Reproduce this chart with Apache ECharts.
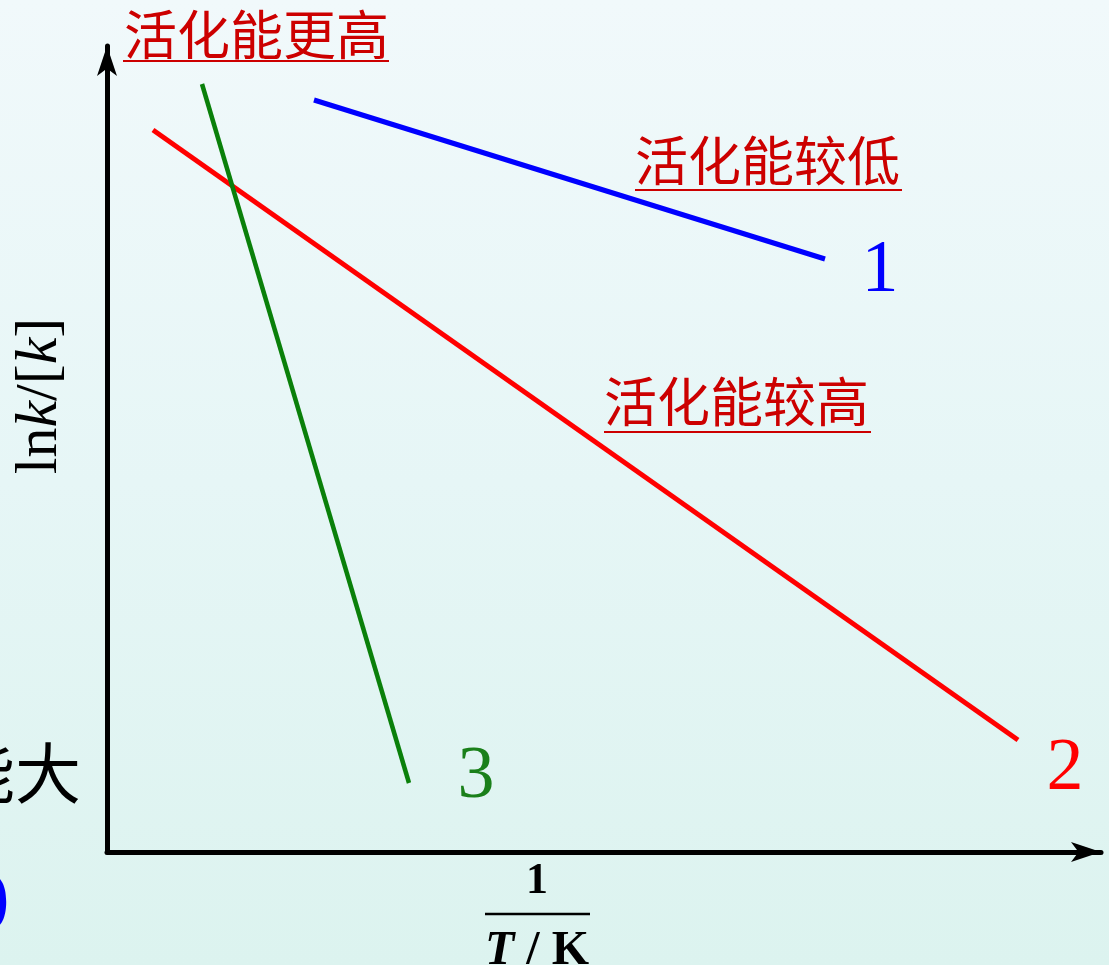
<!DOCTYPE html>
<html><head><meta charset="utf-8">
<script src="https://cdn.jsdelivr.net/npm/echarts@6/dist/echarts.min.js"></script>
<style>html,body{margin:0;padding:0;}#c{width:1109px;height:965px;background:linear-gradient(180deg,#f1f9fb 0%,#e6f6f6 50%,#dcf3ef 100%);}</style>
</head><body><div id="c"></div>
<script>
// data in axis units (1/T on x, ln k on y, arbitrary units)
const seriesNames = ['1', '2', '3'];
const line1 = [[207, 752], [718, 593]];
const line2 = [[46, 722], [911, 112]];
const line3 = [[95, 768], [302, 69]];
const labels = ['活化能较低', '活化能较高', '活化能更高'];

const chart = echarts.init(document.getElementById('c'));
const serif = '"Liberation Serif","DejaVu Serif",serif';
const cjk = '"Noto Sans CJK SC",sans-serif';
function ul(x1, x2, y, color) {
  return {type: 'line', shape: {x1: x1, y1: y, x2: x2, y2: y}, style: {stroke: color, lineWidth: 2}};
}
chart.setOption({
  animation: false,
  grid: {left: 107, top: 46, width: 994, height: 806},
  xAxis: {type: 'value', min: 0, max: 994, axisTick: {show: false}, axisLabel: {show: false}, splitLine: {show: false},
    axisLine: {lineStyle: {color: '#000', width: 5}, symbol: ['none', 'arrow'], symbolSize: [15, 30]}},
  yAxis: {type: 'value', min: 0, max: 806, axisTick: {show: false}, axisLabel: {show: false}, splitLine: {show: false},
    axisLine: {lineStyle: {color: '#000', width: 5}, symbol: ['none', 'arrow'], symbolSize: [15, 30]}},
  series: [
    {name: seriesNames[0], type: 'line', data: line1, symbol: 'none', lineStyle: {color: '#0000ff', width: 5}},
    {name: seriesNames[1], type: 'line', data: line2, symbol: 'none', lineStyle: {color: '#ff0000', width: 5}},
    {name: seriesNames[2], type: 'line', data: line3, symbol: 'none', lineStyle: {color: '#0a800a', width: 4.5}}
  ],
  graphic: [
    {type: 'text', left: 124, top: 8, style: {text: labels[2], fill: '#cc0000', font: '53px ' + cjk}},
    ul(123, 389, 61, '#cc0000'),
    {type: 'text', left: 635, top: 134, style: {text: labels[0], fill: '#cc0000', font: '53px ' + cjk}},
    ul(635, 902, 190, '#cc0000'),
    {type: 'text', left: 604, top: 375, style: {text: labels[1], fill: '#cc0000', font: '53px ' + cjk}},
    ul(604, 871, 432, '#cc0000'),
    {type: 'text', x: 880, y: 272, style: {text: seriesNames[0], fill: '#0000ff', font: '74px ' + serif, align: 'center', verticalAlign: 'middle'}},
    {type: 'text', x: 1065, y: 770, style: {text: seriesNames[1], fill: '#ff0000', font: '74px ' + serif, align: 'center', verticalAlign: 'middle'}},
    {type: 'text', x: 476, y: 778, style: {text: seriesNames[2], fill: '#1a801a', font: '74px ' + serif, align: 'center', verticalAlign: 'middle'}},
    {type: 'text', x: 40, y: 396, rotation: Math.PI / 2, style: {
      text: '{n|ln}{i|k}{n|/[}{i|k}{n|]}', align: 'center', verticalAlign: 'middle',
      rich: {n: {fontFamily: serif, fontSize: 60, fill: '#000'}, i: {fontFamily: serif, fontSize: 60, fontStyle: 'italic', fill: '#000'}}}},
    {type: 'text', x: 537, y: 882, style: {text: '1', fill: '#000', font: 'bold 44px ' + serif, align: 'center', verticalAlign: 'middle'}},
    {type: 'line', shape: {x1: 485, y1: 914, x2: 590, y2: 914}, style: {stroke: '#000', lineWidth: 2.5}},
    {type: 'text', x: 537, y: 952, style: {
      text: '{i|T}{n| / K}', align: 'center', verticalAlign: 'middle',
      rich: {n: {fontFamily: serif, fontSize: 48, fontWeight: 'bold', fill: '#000'}, i: {fontFamily: serif, fontSize: 48, fontWeight: 'bold', fontStyle: 'italic', fill: '#000'}}}},
    {type: 'text', x: 81, y: 773, style: {text: '能大', fill: '#000', font: '66px ' + cjk, align: 'right', verticalAlign: 'middle'}},
    {type: 'text', x: 10, y: 900, style: {text: '0', fill: '#0000ff', font: '76px ' + cjk, align: 'right', verticalAlign: 'middle'}}
  ]
});
</script></body></html>
